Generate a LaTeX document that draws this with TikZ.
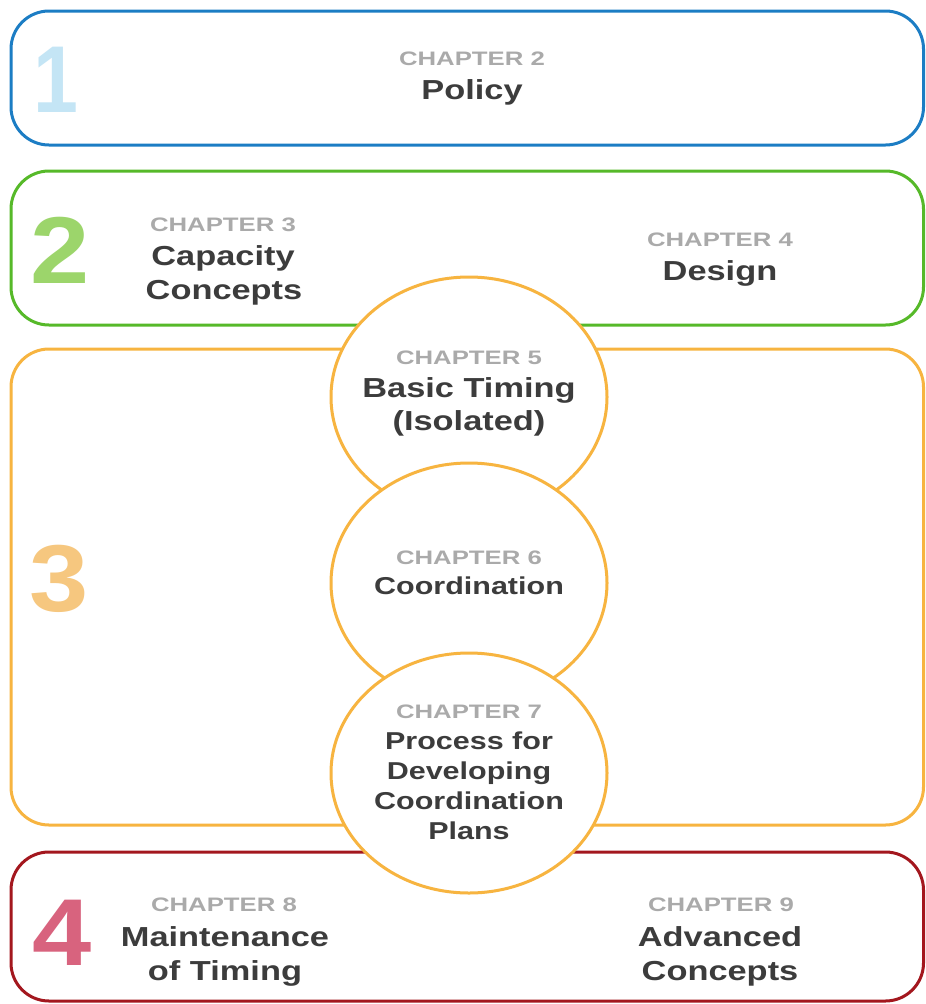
\documentclass[tikz,border=0pt]{standalone}
\usepackage{fontspec}
\newfontfamily\txtfnt[FakeStretch=1.25]{Liberation Sans}
\newfontfamily\chapfnt[FakeStretch=1.32]{Liberation Sans}
\newfontfamily\numfnt[FakeStretch=1.12]{Liberation Sans}
\newfontfamily\onefnt[FakeStretch=0.85]{Liberation Sans}
\usetikzlibrary{shapes.geometric}
\definecolor{lblue}{HTML}{1C7DC4}
\definecolor{lgreen}{HTML}{56B929}
\definecolor{lorange}{HTML}{F7B440}
\definecolor{lred}{HTML}{A3171E}
\definecolor{nblue}{HTML}{C4E5F5}
\definecolor{ngreen}{HTML}{9CD56B}
\definecolor{norange}{HTML}{F6C77F}
\definecolor{nred}{HTML}{D8637E}
\definecolor{chapgray}{HTML}{AAAAAA}
\definecolor{darktxt}{HTML}{3C3C3C}
\begin{document}
\begin{tikzpicture}[x=1pt,y=-1pt,
  chap/.style={anchor=base, inner sep=0pt, text=chapgray, font=\chapfnt\bfseries\fontsize{19.5}{22}\selectfont},
  bigt/.style={anchor=base, inner sep=0pt, text=darktxt, font=\txtfnt\bfseries\fontsize{27.5}{30}\selectfont},
  midt/.style={anchor=base, inner sep=0pt, text=darktxt, font=\txtfnt\bfseries\fontsize{24.4}{28}\selectfont},
  num/.style={anchor=base, inner sep=0pt, font=\numfnt\bfseries\fontsize{95}{100}\selectfont},
  band/.style={line width=3pt, rounded corners=38pt, fill=white},
  disc/.style={ellipse, draw=lorange, line width=3pt, fill=white, minimum width=276pt, minimum height=240pt, inner sep=0pt}]
\useasboundingbox (0,0) rectangle (926,1004);
% bands
\draw[band, draw=lblue] (11,11) rectangle (923.5,145);
\draw[band, draw=lgreen] (11,171) rectangle (923.5,325);
\draw[band, draw=lorange] (11,349) rectangle (923.5,825);
\draw[band, draw=lred] (11,852) rectangle (923.5,1001);
% discs
\node[disc] (d5) at (469,397) {};
\node[disc] (d6) at (469,583) {};
\node[disc] (d7) at (469,773) {};
% numbers
\node[num, text=nblue, font=\onefnt\bfseries\fontsize{95}{100}\selectfont] (n1) at (56,112) {1};
\node[num, text=ngreen] (n2) at (60,283) {2};
\node[num, text=norange] (n3) at (59,611) {3};
\node[num, text=nred] (n4) at (62,965) {4};
% chapter 2
\node[chap] (c2a) at (472,65) {CHAPTER 2};
\node[bigt] (c2b) at (472,99) {Policy};
% chapter 3
\node[chap] (c3a) at (223,231) {CHAPTER 3};
\node[bigt] (c3b) at (223,265) {Capacity};
\node[bigt] (c3c) at (224,299) {Concepts};
% chapter 4
\node[chap] (c4a) at (720,246) {CHAPTER 4};
\node[bigt] (c4b) at (720,280) {Design};
% chapter 5
\node[chap] (c5a) at (469,364) {CHAPTER 5};
\node[bigt] (c5b) at (469,397) {Basic Timing};
\node[bigt] (c5c) at (469,430) {(Isolated)};
% chapter 6
\node[chap] (c6a) at (469,564) {CHAPTER 6};
\node[midt] (c6b) at (469,594) {Coordination};
% chapter 7
\node[chap] (c7a) at (469,718) {CHAPTER 7};
\node[midt] (c7b) at (469,749) {Process for};
\node[midt] (c7c) at (469,779) {Developing};
\node[midt] (c7d) at (469,809) {Coordination};
\node[midt] (c7e) at (469,839) {Plans};
% chapter 8
\node[chap] (c8a) at (224,911) {CHAPTER 8};
\node[bigt] (c8b) at (225,946) {Maintenance};
\node[bigt] (c8c) at (225,980) {of Timing};
% chapter 9
\node[chap] (c9a) at (721,911) {CHAPTER 9};
\node[bigt] (c9b) at (720,946) {Advanced};
\node[bigt] (c9c) at (720,980) {Concepts};
\end{tikzpicture}
\end{document}
